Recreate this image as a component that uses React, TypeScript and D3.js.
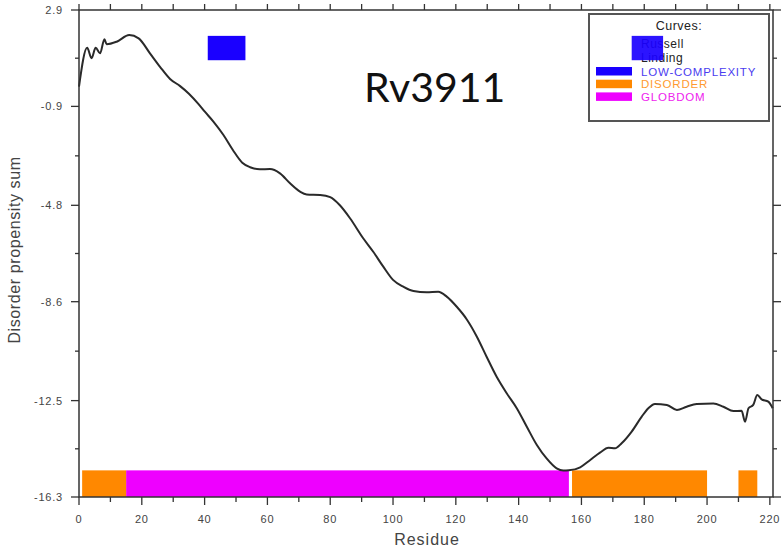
import React from "react";
import * as d3 from "d3";

const residues = [0, 2.6, 4.0, 5.3, 6.7, 8.1, 8.8, 12, 16, 19, 22.6, 25.8, 29, 32.2, 35, 38, 40, 42.8, 46, 49, 52, 54.5, 57.6, 60.8, 64, 67.2, 70.4, 72.5, 76.8, 80, 83, 86.3, 90.5, 93.7, 96.9, 100, 103.3, 106.5, 110.7, 114.4, 117.1, 120.3, 123.5, 126.7, 129.8, 133, 136.2, 139.4, 142.6, 145.8, 148.9, 152.1, 154.2, 156, 159.6, 162.7, 165.9, 168.6, 170.7, 172.8, 176, 179.2, 181.3, 183.4, 187.2, 190.4, 193.5, 196.7, 202, 205.2, 208.4, 211, 212.1, 213.2, 214.7, 216, 217.4, 219.5, 220.9];
const propensity = [-0.12, 1.41, 1.0, 1.41, 1.19, 1.75, 1.55, 1.65, 1.91, 1.78, 1.19, 0.66, 0.18, -0.1, -0.4, -0.8, -1.1, -1.5, -2.03, -2.62, -3.12, -3.3, -3.38, -3.37, -3.54, -3.93, -4.26, -4.37, -4.39, -4.48, -4.79, -5.31, -6.1, -6.63, -7.22, -7.74, -8.01, -8.18, -8.23, -8.21, -8.4, -8.8, -9.3, -9.98, -10.77, -11.56, -12.21, -12.8, -13.53, -14.25, -14.78, -15.17, -15.26, -15.25, -15.13, -14.85, -14.55, -14.36, -14.38, -14.18, -13.72, -13.13, -12.8, -12.63, -12.67, -12.87, -12.74, -12.63, -12.61, -12.74, -12.91, -12.9, -13.33, -12.8, -12.67, -12.28, -12.45, -12.54, -12.8];

const yTicks = [2.9, -0.9, -4.8, -8.6, -12.5, -16.3];
const xTicks = [0, 20, 40, 60, 80, 100, 120, 140, 160, 180, 200, 220];

const lowComplexity = [[41, 53], [176, 186]];
const disorder = [[1, 15], [157, 200], [210, 216]];
const globdom = [[15, 156]];

const legendItems = [
  { label: "LOW-COMPLEXITY", color: "#1a00ff", text: "#4a3cf0" },
  { label: "DISORDER", color: "#ff8800", text: "#ff9a30" },
  { label: "GLOBDOM", color: "#ee00ff", text: "#ee22ee" },
];

export default function App() {
  const W = 782, H = 548;
  const left = 79, right = 773, top = 10, bottom = 497;
  const x = d3.scaleLinear().domain([0, 221]).range([left, right]);
  const y = d3.scaleLinear().domain([-16.3, 2.9]).range([bottom, top]);
  const line = d3.line<number>()
    .x((_, i) => x(residues[i]))
    .y((d) => y(d))
    .curve(d3.curveMonotoneX);

  const yMinor = yTicks.slice(0, -1).map((t, i) => (t + yTicks[i + 1]) / 2);
  const xMinor = d3.range(10, 221, 20);
  const topTicks = d3.range(0, 221, 10);
  const axisColor = "#333";
  const labelColor = "#444";
  const fontFam = "'Liberation Sans', Arial, sans-serif";

  const barTop = y(-15.25);

  return (
    <svg width={W} height={H} style={{ position: "absolute", left: 0, top: 0, background: "#fff" }}>
      {/* bars */}
      {globdom.map(([a, b], i) => (
        <rect key={"g" + i} x={x(a)} y={barTop} width={x(b) - x(a)} height={bottom - barTop} fill="#ee00ff" />
      ))}
      {disorder.map(([a, b], i) => (
        <rect key={"d" + i} x={x(a)} y={barTop} width={x(b) - x(a)} height={bottom - barTop} fill="#ff8800" />
      ))}
      {/* curve */}
      <path d={line(propensity) || ""} fill="none" stroke="#2a2a2a" strokeWidth={2} />

      {/* legend */}
      <rect x={589} y={14} width={180} height={107} fill="#fff" stroke="#555" strokeWidth={2} />
      <text x={679} y={30} textAnchor="middle" fontFamily={fontFam} fontSize={12.5} fill="#222" letterSpacing={0.5}>Curves:</text>
      <text x={641} y={48} fontFamily={fontFam} fontSize={12} fill="#222" letterSpacing={0.5}>Russell</text>
      <text x={641} y={62} fontFamily={fontFam} fontSize={12} fill="#222" letterSpacing={0.5}>Linding</text>
      {legendItems.map((it, i) => (
        <g key={it.label}>
          <rect x={596} y={67 + i * 12.7} width={36} height={8.5} fill={it.color} />
          <text x={641} y={75.5 + i * 12.7} fontFamily={fontFam} fontSize={11.5} fill={it.text} letterSpacing={0.8}>{it.label}</text>
        </g>
      ))}

      {/* low complexity boxes */}
      {lowComplexity.map(([a, b], i) => (
        <rect key={"l" + i} x={x(a)} y={y(1.88)} width={x(b) - x(a)} height={y(0.92) - y(1.88)} fill="#1a00ff" opacity={i === 1 ? 0.92 : 1} />
      ))}

      {/* frame */}
      <rect x={left} y={top} width={right - left} height={bottom - top} fill="none" stroke={axisColor} strokeWidth={1.5} />

      {/* y ticks */}
      {yTicks.map((t) => (
        <g key={"yt" + t}>
          <line x1={left - 8} x2={left} y1={y(t)} y2={y(t)} stroke={axisColor} strokeWidth={1.3} />
          <line x1={right} x2={right + 8} y1={y(t)} y2={y(t)} stroke={axisColor} strokeWidth={1.3} />
          <text x={63} y={y(t) + 4} textAnchor="end" fontFamily={fontFam} fontSize={11} fill={labelColor} letterSpacing={0.8}>{t.toFixed(1)}</text>
        </g>
      ))}
      {yMinor.map((t) => (
        <g key={"ym" + t}>
          <line x1={left - 4} x2={left} y1={y(t)} y2={y(t)} stroke={axisColor} strokeWidth={1.3} />
          <line x1={right} x2={right + 4} y1={y(t)} y2={y(t)} stroke={axisColor} strokeWidth={1.3} />
        </g>
      ))}

      {/* x ticks */}
      {xTicks.map((t) => (
        <g key={"xt" + t}>
          <line x1={x(t)} x2={x(t)} y1={bottom} y2={bottom + 8} stroke={axisColor} strokeWidth={1.3} />
          <text x={x(t)} y={523} textAnchor="middle" fontFamily={fontFam} fontSize={11} fill={labelColor} letterSpacing={0.8}>{t}</text>
        </g>
      ))}
      {xMinor.map((t) => (
        <line key={"xm" + t} x1={x(t)} x2={x(t)} y1={bottom} y2={bottom + 5} stroke={axisColor} strokeWidth={1.3} />
      ))}
      {topTicks.map((t) => (
        <line key={"tt" + t} x1={x(t)} x2={x(t)} y1={top - 6} y2={top} stroke={axisColor} strokeWidth={1.3} />
      ))}

      {/* axis titles */}
      <text x={427} y={545} textAnchor="middle" fontFamily={fontFam} fontSize={16} fill={labelColor} letterSpacing={1}>Residue</text>
      <text transform="translate(20,250) rotate(-90)" textAnchor="middle" fontFamily={fontFam} fontSize={16} fill={labelColor} letterSpacing={0.6}>Disorder propensity sum</text>

      {/* title */}
      <text x={364} y={102} fontFamily="Lato, 'Liberation Sans', sans-serif" fontSize={41} fill="#111">Rv3911</text>
    </svg>
  );
}
